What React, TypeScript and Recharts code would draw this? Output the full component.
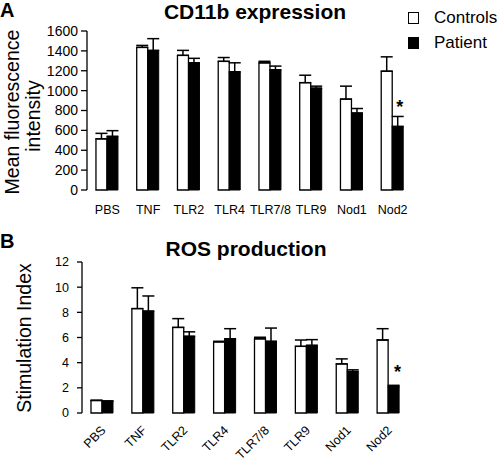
import { BarChart, Bar, XAxis, YAxis, ErrorBar, LabelList, Legend } from "recharts"

// x categories (same for both panels)
const categories = ["PBS", "TNF", "TLR2", "TLR4", "TLR7/8", "TLR9", "Nod1", "Nod2"]
const significance = ["", "", "", "", "", "", "", "*"]

// Panel A - CD11b expression (mean fluorescence intensity)
const cd11bControls = [515, 1435, 1355, 1295, 1280, 1080, 915, 1195]
const cd11bControlsErr = [55, 20, 50, 38, 15, 75, 130, 145]
const cd11bPatient = [540, 1405, 1280, 1190, 1210, 1025, 775, 640]
const cd11bPatientErr = [57, 118, 45, 90, 37, 20, 45, 100]
const cd11bTicks = [0, 200, 400, 600, 800, 1000, 1200, 1400, 1600]

// Panel B - ROS production (stimulation index)
const rosControls = [1.0, 8.3, 6.8, 5.65, 5.9, 5.3, 3.9, 5.8]
const rosControlsErr = [0, 1.65, 0.7, 0.05, 0.12, 0.5, 0.4, 0.9]
const rosPatient = [0.95, 8.1, 6.1, 5.9, 5.7, 5.38, 3.3, 2.1]
const rosPatientErr = [0, 1.2, 0.35, 0.8, 1.05, 0.45, 0.13, 0.1]
const rosTicks = [0, 2, 4, 6, 8, 10, 12]

const edgeTicks = [0, 1, 2, 3, 4, 5, 6, 7, 8]

const FONT = "'Liberation Sans', Arial, sans-serif"

const buildRows = (ctrl: number[], ctrlErr: number[], pat: number[], patErr: number[]) =>
  categories.map((name, i) => ({
    name,
    controls: ctrl[i],
    controlsErr: [0, ctrlErr[i]],
    patient: pat[i],
    patientErr: [0, patErr[i]],
    sig: significance[i],
  }))

const cd11bData = buildRows(cd11bControls, cd11bControlsErr, cd11bPatient, cd11bPatientErr)
const rosData = buildRows(rosControls, rosControlsErr, rosPatient, rosPatientErr)

const RotatedTick = (props: any) => {
  const { x, y, payload } = props
  const ax = x + 4
  const ay = y + 18
  return (
    <text
      x={ax}
      y={ay}
      textAnchor="end"
      fontSize={12.5}
      fontFamily={FONT}
      fill="#000"
      transform={`rotate(-45 ${ax} ${ay})`}
    >
      {payload.value}
    </text>
  )
}

const LegendBox = (props: any) => {
  const items = props.payload || []
  return (
    <div style={{ fontFamily: FONT, fontSize: 17, color: "#000" }}>
      {items.map((entry: any) => (
        <div key={entry.value} style={{ display: "flex", alignItems: "center", height: 25 }}>
          <span
            style={{
              display: "inline-block",
              width: 9,
              height: 10,
              border: "1.5px solid #000",
              background: entry.value === "Controls" ? "#fff" : "#000",
              marginRight: 15,
            }}
          />
          {entry.value}
        </div>
      ))}
    </div>
  )
}

export default function App() {
  return (
    <div style={{ position: "absolute", left: 0, top: 0, width: 500, height: 462, background: "#fff", fontFamily: FONT }}>
      {/* Panel A */}
      <div style={{ position: "absolute", left: 0, top: 0 }}>
        <BarChart
          width={500}
          height={230}
          data={cd11bData}
          margin={{ top: 31, right: 87, left: 0, bottom: 0 }}
          barCategoryGap="22%"
          barGap={0}
        >
          <XAxis
            xAxisId="edges"
            type="number"
            domain={[0, 8]}
            ticks={edgeTicks}
            allowDataOverflow
            tick={false}
            tickSize={5}
            height={0}
            stroke="#000"
            strokeWidth={1.3}
          />
          <XAxis
            xAxisId="cat"
            dataKey="name"
            axisLine={false}
            tickLine={false}
            tickSize={0}
            tickMargin={15}
            height={40}
            interval={0}
            tick={{ fontSize: 12.5, fill: "#000", fontFamily: FONT }}
          />
          <YAxis
            domain={[0, 1600]}
            ticks={cd11bTicks}
            interval={0}
            width={87}
            tickSize={6}
            tickMargin={3}
            stroke="#000"
            strokeWidth={1.3}
            tick={{ fontSize: 14, fill: "#000", fontFamily: FONT }}
          />
          <Legend
            layout="vertical"
            align="center"
            verticalAlign="middle"
            content={<LegendBox />}
            wrapperStyle={{ top: 5, left: 408, width: 92 }}
          />
          <Bar xAxisId="cat" dataKey="controls" name="Controls" fill="#fff" stroke="#000" strokeWidth={1.3} isAnimationActive={false}>
            <ErrorBar dataKey="controlsErr" width={6} stroke="#000" strokeWidth={1.5} direction="y" />
          </Bar>
          <Bar xAxisId="cat" dataKey="patient" name="Patient" fill="#000" stroke="#000" strokeWidth={1} isAnimationActive={false}>
            <ErrorBar dataKey="patientErr" width={6} stroke="#000" strokeWidth={1.5} direction="y" />
            <LabelList dataKey="sig" position="top" offset={13} dx={2} fontSize={18} fontWeight="bold" fill="#000" fontFamily={FONT} />
          </Bar>
        </BarChart>
      </div>

      {/* Panel B */}
      <div style={{ position: "absolute", left: 0, top: 230 }}>
        <BarChart
          width={500}
          height={232}
          data={rosData}
          margin={{ top: 32, right: 91, left: 0, bottom: 0 }}
          barCategoryGap="22%"
          barGap={0}
        >
          <XAxis
            xAxisId="edges"
            type="number"
            domain={[0, 8]}
            ticks={edgeTicks}
            allowDataOverflow
            tick={false}
            tickSize={5}
            height={0}
            stroke="#000"
            strokeWidth={1.3}
          />
          <XAxis
            xAxisId="cat"
            dataKey="name"
            axisLine={false}
            tickLine={false}
            tickSize={0}
            tickMargin={0}
            height={49}
            interval={0}
            tick={<RotatedTick />}
          />
          <YAxis
            domain={[0, 12]}
            ticks={rosTicks}
            interval={0}
            width={82}
            tickSize={5}
            tickMargin={8}
            stroke="#000"
            strokeWidth={1.3}
            tick={{ fontSize: 12.5, fill: "#000", fontFamily: FONT }}
          />
          <Bar xAxisId="cat" dataKey="controls" name="Controls" fill="#fff" stroke="#000" strokeWidth={1.3} isAnimationActive={false}>
            <ErrorBar dataKey="controlsErr" width={6} stroke="#000" strokeWidth={1.5} direction="y" />
          </Bar>
          <Bar xAxisId="cat" dataKey="patient" name="Patient" fill="#000" stroke="#000" strokeWidth={1} isAnimationActive={false}>
            <ErrorBar dataKey="patientErr" width={6} stroke="#000" strokeWidth={1.5} direction="y" />
            <LabelList dataKey="sig" position="top" offset={9} dx={4} fontSize={18} fontWeight="bold" fill="#000" fontFamily={FONT} />
          </Bar>
        </BarChart>
      </div>

      {/* titles, panel letters, axis titles */}
      <svg width={500} height={462} style={{ position: "absolute", left: 0, top: 0, pointerEvents: "none" }} fontFamily={FONT}>
        <text x={0} y={17} fontSize={20} fontWeight="bold">A</text>
        <text x={255} y={19} fontSize={21} fontWeight="bold" textAnchor="middle">CD11b expression</text>
        <text x={19} y={112} fontSize={19.5} textAnchor="middle" transform="rotate(-90 19 112)">Mean fluorescence</text>
        <text x={40} y={116} fontSize={19.5} textAnchor="middle" transform="rotate(-90 40 116)">intensity</text>

        <text x={0} y={248} fontSize={20} fontWeight="bold">B</text>
        <text x={246} y={256} fontSize={21} fontWeight="bold" textAnchor="middle">ROS production</text>
        <text x={31} y={338} fontSize={19.5} textAnchor="middle" transform="rotate(-90 31 338)">Stimulation Index</text>
      </svg>
    </div>
  )
}
